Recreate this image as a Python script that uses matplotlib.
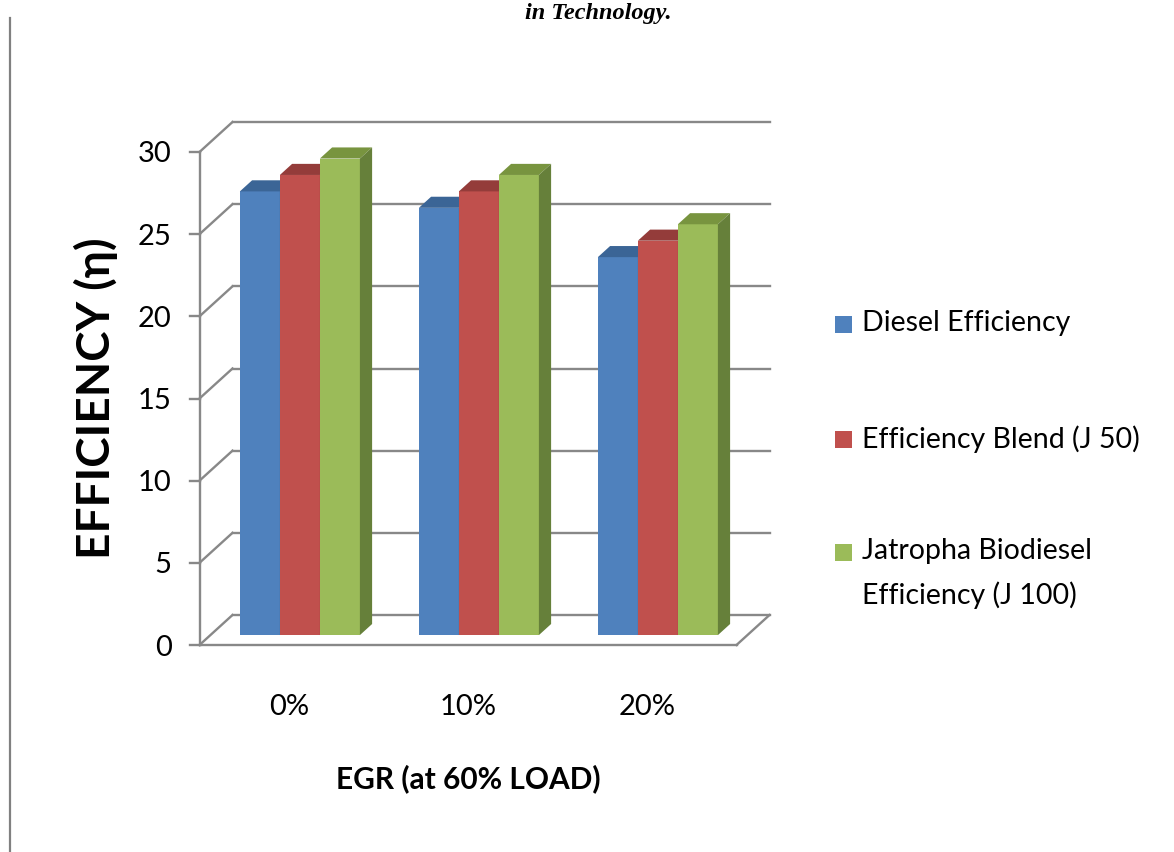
import matplotlib
matplotlib.use("Agg")
import matplotlib.pyplot as plt
from matplotlib.patches import Polygon, Rectangle
from matplotlib.lines import Line2D

# EGR levels and thermal efficiency of each fuel
categories = ["0%", "10%", "20%"]
diesel = [27, 26, 23]
blend_j50 = [28, 27, 24]
jatropha_j100 = [29, 28, 25]
series_names = ["Diesel Efficiency", "Efficiency Blend (J 50)",
                "Jatropha Biodiesel\nEfficiency (J 100)"]
yticks = [0, 5, 10, 15, 20, 25, 30]

front_cols = ["#4F81BD", "#C0504D", "#9BBB59"]
top_cols = ["#3B6596", "#943C3A", "#78943F"]
side_cols = ["#3A5F8C", "#8A3937", "#66803A"]
grid_col = "#888888"
font = ["Lato", "DejaVu Sans"]

W, H = 1174, 852
fig = plt.figure(figsize=(W / 100, H / 100), dpi=100)
ax = fig.add_axes([199.5 / W, 207 / H, 537 / W, 493 / H])
ax.set_xlim(-0.5, 2.5)
ax.set_ylim(0, 30)
for s in ax.spines.values():
    s.set_visible(False)

# pixel -> data sizes, used for the fake 3d depth
px_x = 3.0 / 537
px_y = 30.0 / 493
DX, DY = 33 * px_x, 30 * px_y     # full depth of the floor / walls
f0, f1 = 0.33, 0.70              # bars sit between these depth fractions

# back wall gridlines and the left wall diagonals
lw = 1.7
x_left, x_right = -0.5, 2.5
for v in yticks:
    ax.add_line(Line2D([x_left + DX, x_right + DX], [v + DY, v + DY],
                       color=grid_col, lw=lw, clip_on=False, zorder=1))
    ax.add_line(Line2D([x_left, x_left + DX], [v, v + DY],
                       color=grid_col, lw=lw, clip_on=False, zorder=1))
    ax.add_line(Line2D([x_left - 10 * px_x, x_left], [v, v],
                       color=grid_col, lw=lw, clip_on=False, zorder=1))
# front axis, floor front edge and right floor edge
ax.add_line(Line2D([x_left, x_left], [0, 30], color=grid_col, lw=lw,
                   clip_on=False, zorder=1))
ax.add_line(Line2D([x_left, x_right], [0, 0], color=grid_col, lw=lw,
                   clip_on=False, zorder=1))
ax.add_line(Line2D([x_right, x_right + DX], [0, DY], color=grid_col, lw=lw,
                   clip_on=False, zorder=1))

# bars: front faces from ax.bar, then top and side faces
w = 0.2235
base = f0 * DY
ddx, ddy = (f1 - f0) * DX, (f1 - f0) * DY
for i, vals in enumerate([diesel, blend_j50, jatropha_j100]):
    xs = [c + (i - 1) * w + f0 * DX for c in range(len(categories))]
    z = 3 + i
    ax.bar(xs, vals, width=w, bottom=base, color=front_cols[i],
           label=series_names[i], zorder=z, clip_on=False)
    for x, v in zip(xs, vals):
        x0, x1 = x - w / 2, x + w / 2
        top = base + v
        ax.add_patch(Polygon([(x0, top), (x1, top), (x1 + ddx, top + ddy),
                              (x0 + ddx, top + ddy)], closed=True,
                             fc=top_cols[i], ec="none", zorder=z, clip_on=False))
        ax.add_patch(Polygon([(x1, base), (x1 + ddx, base + ddy),
                              (x1 + ddx, top + ddy), (x1, top)], closed=True,
                             fc=side_cols[i], ec="none", zorder=z, clip_on=False))

ax.set_yticks(yticks)
ax.set_yticklabels([str(t) for t in yticks], family=font, fontsize=21)
ax.set_xticks(range(len(categories)))
ax.set_xticklabels(categories, family=font, fontsize=21)
ax.tick_params(axis="y", length=0, pad=20)
ax.tick_params(axis="x", length=0, pad=35)

ax.set_ylabel("EFFICIENCY (\u03b7)", family=font, fontsize=33,
              fontweight="bold", labelpad=14)
ax.set_xlabel("EGR (at 60% LOAD)", family=font, fontsize=21.5,
              fontweight="bold", labelpad=32)

# legend on the right
leg_y = [325, 440, 553]
for i, name in enumerate(series_names):
    y = 1 - leg_y[i] / H
    fig.add_artist(Rectangle((835 / W, y - 8 / H), 17 / W, 17 / H,
                             transform=fig.transFigure, fc=front_cols[i],
                             ec="none"))
    fig.text(862 / W, y + 15 / H, name, family=font, fontsize=20.5,
             ha="left", va="top", linespacing=1.75)

# page margin line and running header
fig.add_artist(Line2D([10 / W, 10 / W], [0, 1 - 18 / H],
                      transform=fig.transFigure, color="#808080", lw=1.6))
fig.text(598 / W, 1 - 19 / H, "in Technology.", family="Liberation Serif",
         style="italic", fontweight="bold", fontsize=17.5, ha="center",
         va="baseline")

fig.savefig("out.png", dpi=100)
